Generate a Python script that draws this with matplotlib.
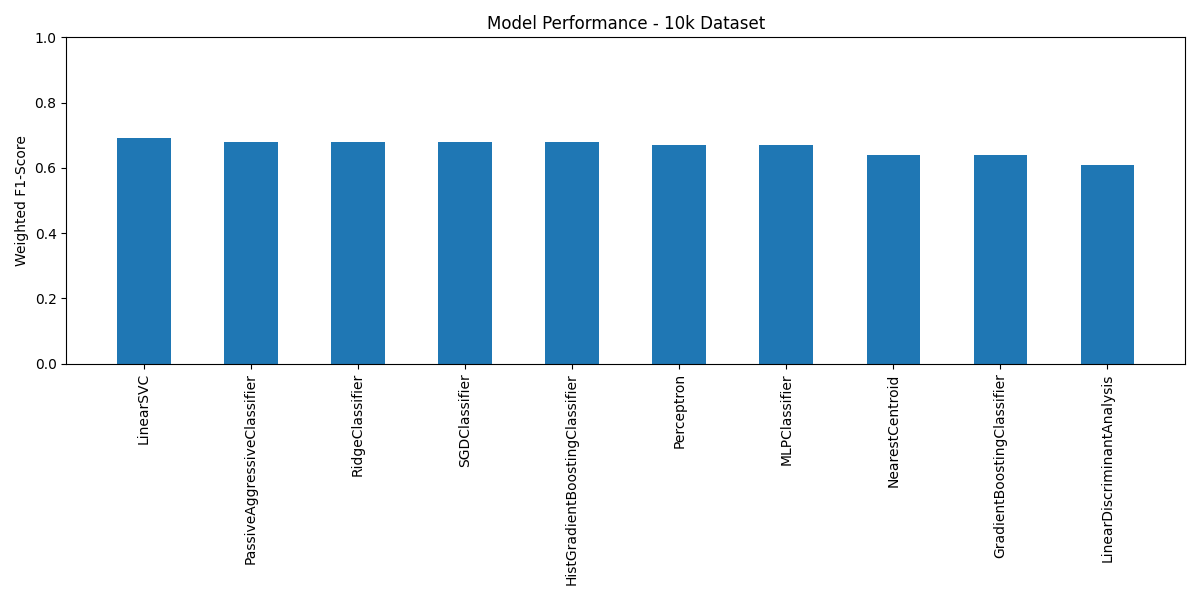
import matplotlib
matplotlib.use("Agg")
import matplotlib.pyplot as plt
import numpy as np

models = ["LinearSVC", "PassiveAggressiveClassifier", "RidgeClassifier", "SGDClassifier",
          "HistGradientBoostingClassifier", "Perceptron", "MLPClassifier", "NearestCentroid",
          "GradientBoostingClassifier", "LinearDiscriminantAnalysis"]
f1_scores = [0.69, 0.68, 0.68, 0.68, 0.68, 0.67, 0.67, 0.64, 0.64, 0.61]

fig, ax = plt.subplots(figsize=(12, 6), dpi=100)
x = np.arange(len(models))
ax.bar(x, f1_scores, width=0.5, color="#1f77b4")
ax.set_xticks(x)
ax.set_xticklabels(models, rotation=90)
ax.set_ylim(0, 1.0)
ax.set_ylabel("Weighted F1-Score")
ax.set_title("Model Performance - 10k Dataset")
fig.tight_layout()
fig.savefig("out.png", dpi=100)
